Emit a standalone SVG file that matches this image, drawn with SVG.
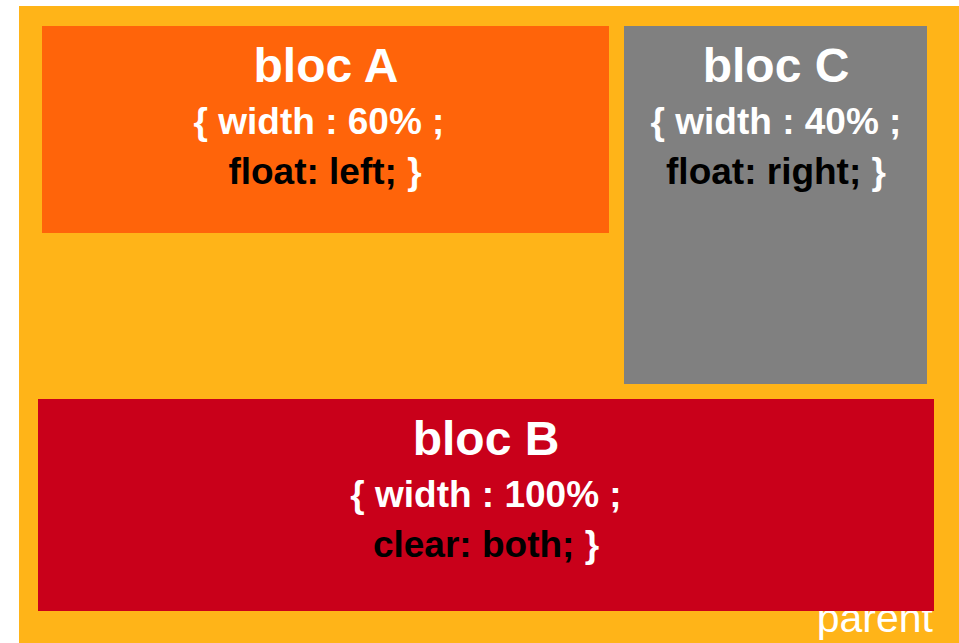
<svg xmlns="http://www.w3.org/2000/svg" width="959" height="643" viewBox="0 0 959 643">
<style>
text{font-family:"Liberation Sans",Arial,sans-serif;text-anchor:middle}
.t{font-size:48px;font-weight:bold;fill:#fff}
.w{font-size:37px;font-weight:bold;fill:#fff}
.k{font-size:37px;font-weight:bold;fill:#000}
</style>
<rect width="959" height="643" fill="#fff"/>
<g id="parent">
<rect x="19" y="6" width="940" height="637" fill="#FFB418"/>
<text x="933" y="632" style="font-size:41px;fill:#fff;text-anchor:end">parent</text>
</g>
<g id="blocA">
<rect x="42" y="26" width="567" height="207" fill="#FF640A"/>
<text class="t" x="326" y="82">bloc A</text>
<text class="w" x="319" y="134">{ width : 60% ;</text>
<text x="325" y="184" class="k">float: left; <tspan fill="#fff">}</tspan></text>
</g>
<g id="blocC">
<rect x="624" y="26" width="303" height="358" fill="#808080"/>
<text class="t" x="776" y="82">bloc C</text>
<text class="w" x="776" y="134">{ width : 40% ;</text>
<text x="776" y="184" class="k">float: right; <tspan fill="#fff">}</tspan></text>
</g>
<g id="blocB">
<rect x="38" y="399" width="896" height="212" fill="#C9001A"/>
<text class="t" x="486" y="455">bloc B</text>
<text class="w" x="486" y="507">{ width : 100% ;</text>
<text x="486" y="557" class="k">clear: both; <tspan fill="#fff">}</tspan></text>
</g>
<g id="connectors"/>
</svg>
